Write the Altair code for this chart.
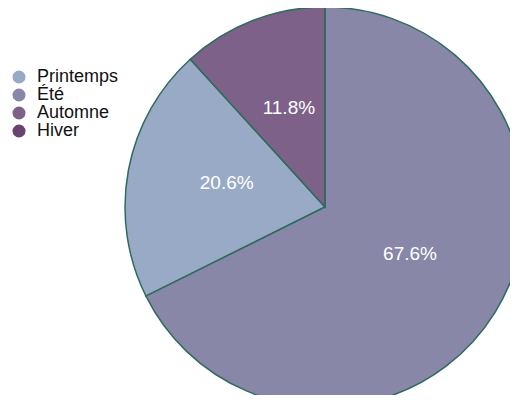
import altair as alt
import pandas as pd

saisons = ["Printemps", "Été", "Automne", "Hiver"]
effectifs = [7, 23, 4, 0]
couleurs = ["#98aac6", "#8987a8", "#7e6189", "#6a4470"]

total = sum(effectifs)
df = pd.DataFrame({
    "saison": saisons,
    "valeur": effectifs,
    "label": [f"{v / total * 100:.1f}%" for v in effectifs],
})

color = alt.Color(
    "saison:N",
    scale=alt.Scale(domain=saisons, range=couleurs),
    sort=saisons,
    legend=alt.Legend(
        title=None, orient="none", legendX=2, legendY=60,
        symbolType="circle", symbolSize=170, symbolStrokeWidth=0,
        labelFontSize=18, labelFont="Liberation Sans", labelColor="#111111",
        rowPadding=0, labelOffset=9, padding=0,
    ),
)

base = alt.Chart(df).encode(
    theta=alt.Theta("valeur:Q", stack=True),
    order=alt.Order("valeur:Q", sort="descending"),
    x=alt.value(317),
    y=alt.value(199),
)

arcs = base.mark_arc(radius=200, stroke="#2f6b5f", strokeWidth=1.5).encode(color=color)

texts = base.mark_text(
    radius=100, fontSize=19, font="Liberation Sans", color="white", baseline="alphabetic"
).encode(text="label:N").transform_filter(alt.datum.valeur > 0)

chart = (arcs + texts).properties(
    width=502, height=387,
    autosize=alt.AutoSizeParams(type="none"),
    padding=0,
).configure_view(stroke=None)

chart.save("out.html", embed_options={"renderer": "svg", "actions": False})
